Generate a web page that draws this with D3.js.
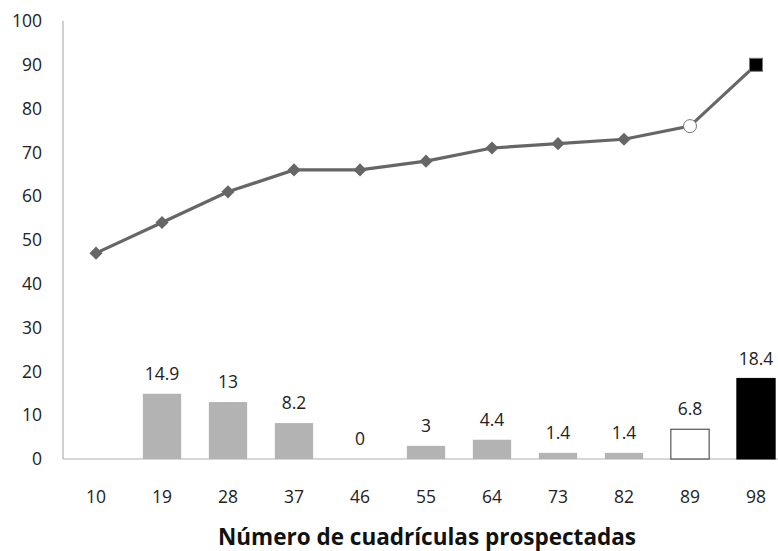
<!DOCTYPE html>
<html><head><meta charset="utf-8">
<script src="https://d3js.org/d3.v7.min.js"></script>
<style>body{margin:0;background:#fff}svg{display:block}</style>
</head><body>
<script>
const categories = ["10","19","28","37","46","55","64","73","82","89","98"];
const barValues = [null,14.9,13,8.2,0,3,4.4,1.4,1.4,6.8,18.4];
const lineValues = [47,54,61,66,66,68,71,72,73,76,90];
const yTicks = [0,10,20,30,40,50,60,70,80,90,100];
const xTitle = "Número de cuadrículas prospectadas";

const W = 778, H = 551;
const svg = d3.select("body").append("svg").attr("width", W).attr("height", H);
const font = "'Open Sans', 'Noto Sans', sans-serif";

const x = d3.scaleBand().domain(categories).range([63, 789]).paddingInner(0.42).paddingOuter(0.21);
const y = d3.scaleLinear().domain([0,100]).range([459, 21]);

// axes lines
svg.append("line").attr("x1",63).attr("x2",63).attr("y1",y(100)).attr("y2",y(0)).attr("stroke","#b0b0b0").attr("stroke-width",1.2);
svg.append("line").attr("x1",63).attr("x2",W).attr("y1",y(0)).attr("y2",y(0)).attr("stroke","#b0b0b0").attr("stroke-width",1.2);

// y tick labels
svg.append("g").selectAll("text").data(yTicks).join("text")
  .attr("x",42).attr("y",d=>y(d)).attr("dy","0.35em").attr("text-anchor","end")
  .attr("font-family",font).attr("font-size",17.5).attr("fill","#222").text(d=>d);

// x tick labels
svg.append("g").selectAll("text").data(categories).join("text")
  .attr("x",d=>x(d)+x.bandwidth()/2).attr("y",497).attr("dy","0.35em").attr("text-anchor","middle")
  .attr("font-family",font).attr("font-size",17.5).attr("fill","#222").text(d=>d);

// x title
svg.append("text").attr("x",427).attr("y",537).attr("dy","0.35em").attr("text-anchor","middle")
  .attr("font-family",font).attr("font-size",22.5).attr("font-weight","bold").attr("fill","#111").text(xTitle);

// bars
const barData = categories.map((c,i)=>({c, v:barValues[i], i})).filter(d=>d.v!==null);
function barFill(i){ return i===categories.length-1 ? "#000" : (i===categories.length-2 ? "#fff" : "#b3b3b3"); }
function barStroke(i){ return i===categories.length-1 ? "#000" : (i===categories.length-2 ? "#333" : "none"); }
svg.append("g").selectAll("rect").data(barData.filter(d=>d.v>0)).join("rect")
  .attr("x",d=>x(d.c)).attr("width",x.bandwidth())
  .attr("y",d=>y(d.v)).attr("height",d=>y(0)-y(d.v))
  .attr("fill",d=>barFill(d.i)).attr("stroke",d=>barStroke(d.i)).attr("stroke-width",1);
svg.append("g").selectAll("text").data(barData).join("text")
  .attr("x",d=>x(d.c)+x.bandwidth()/2).attr("y",d=>y(d.v)-20).attr("dy","0.35em").attr("text-anchor","middle")
  .attr("font-family",font).attr("font-size",17.5).attr("fill","#222").text(d=>d.v);

// line
const cx = c => x(c)+x.bandwidth()/2;
const lineData = categories.map((c,i)=>({c, v:lineValues[i], i}));
svg.append("path").datum(lineData)
  .attr("d", d3.line().x(d=>cx(d.c)).y(d=>y(d.v)))
  .attr("fill","none").attr("stroke","#666").attr("stroke-width",3.2);

const n = categories.length;
svg.append("g").selectAll("path").data(lineData.slice(0,n-2)).join("path")
  .attr("transform",d=>`translate(${cx(d.c)},${y(d.v)})`)
  .attr("d", d3.symbol().type(d3.symbolDiamond2).size(110))
  .attr("fill","#666");
svg.append("circle").attr("cx",cx(categories[n-2])).attr("cy",y(lineValues[n-2])).attr("r",6.5)
  .attr("fill","#fff").attr("stroke","#777").attr("stroke-width",1);
svg.append("rect").attr("x",cx(categories[n-1])-6.5).attr("y",y(lineValues[n-1])-6.5).attr("width",13).attr("height",13)
  .attr("fill","#000").attr("stroke","#777").attr("stroke-width",1);
</script>
</body></html>
